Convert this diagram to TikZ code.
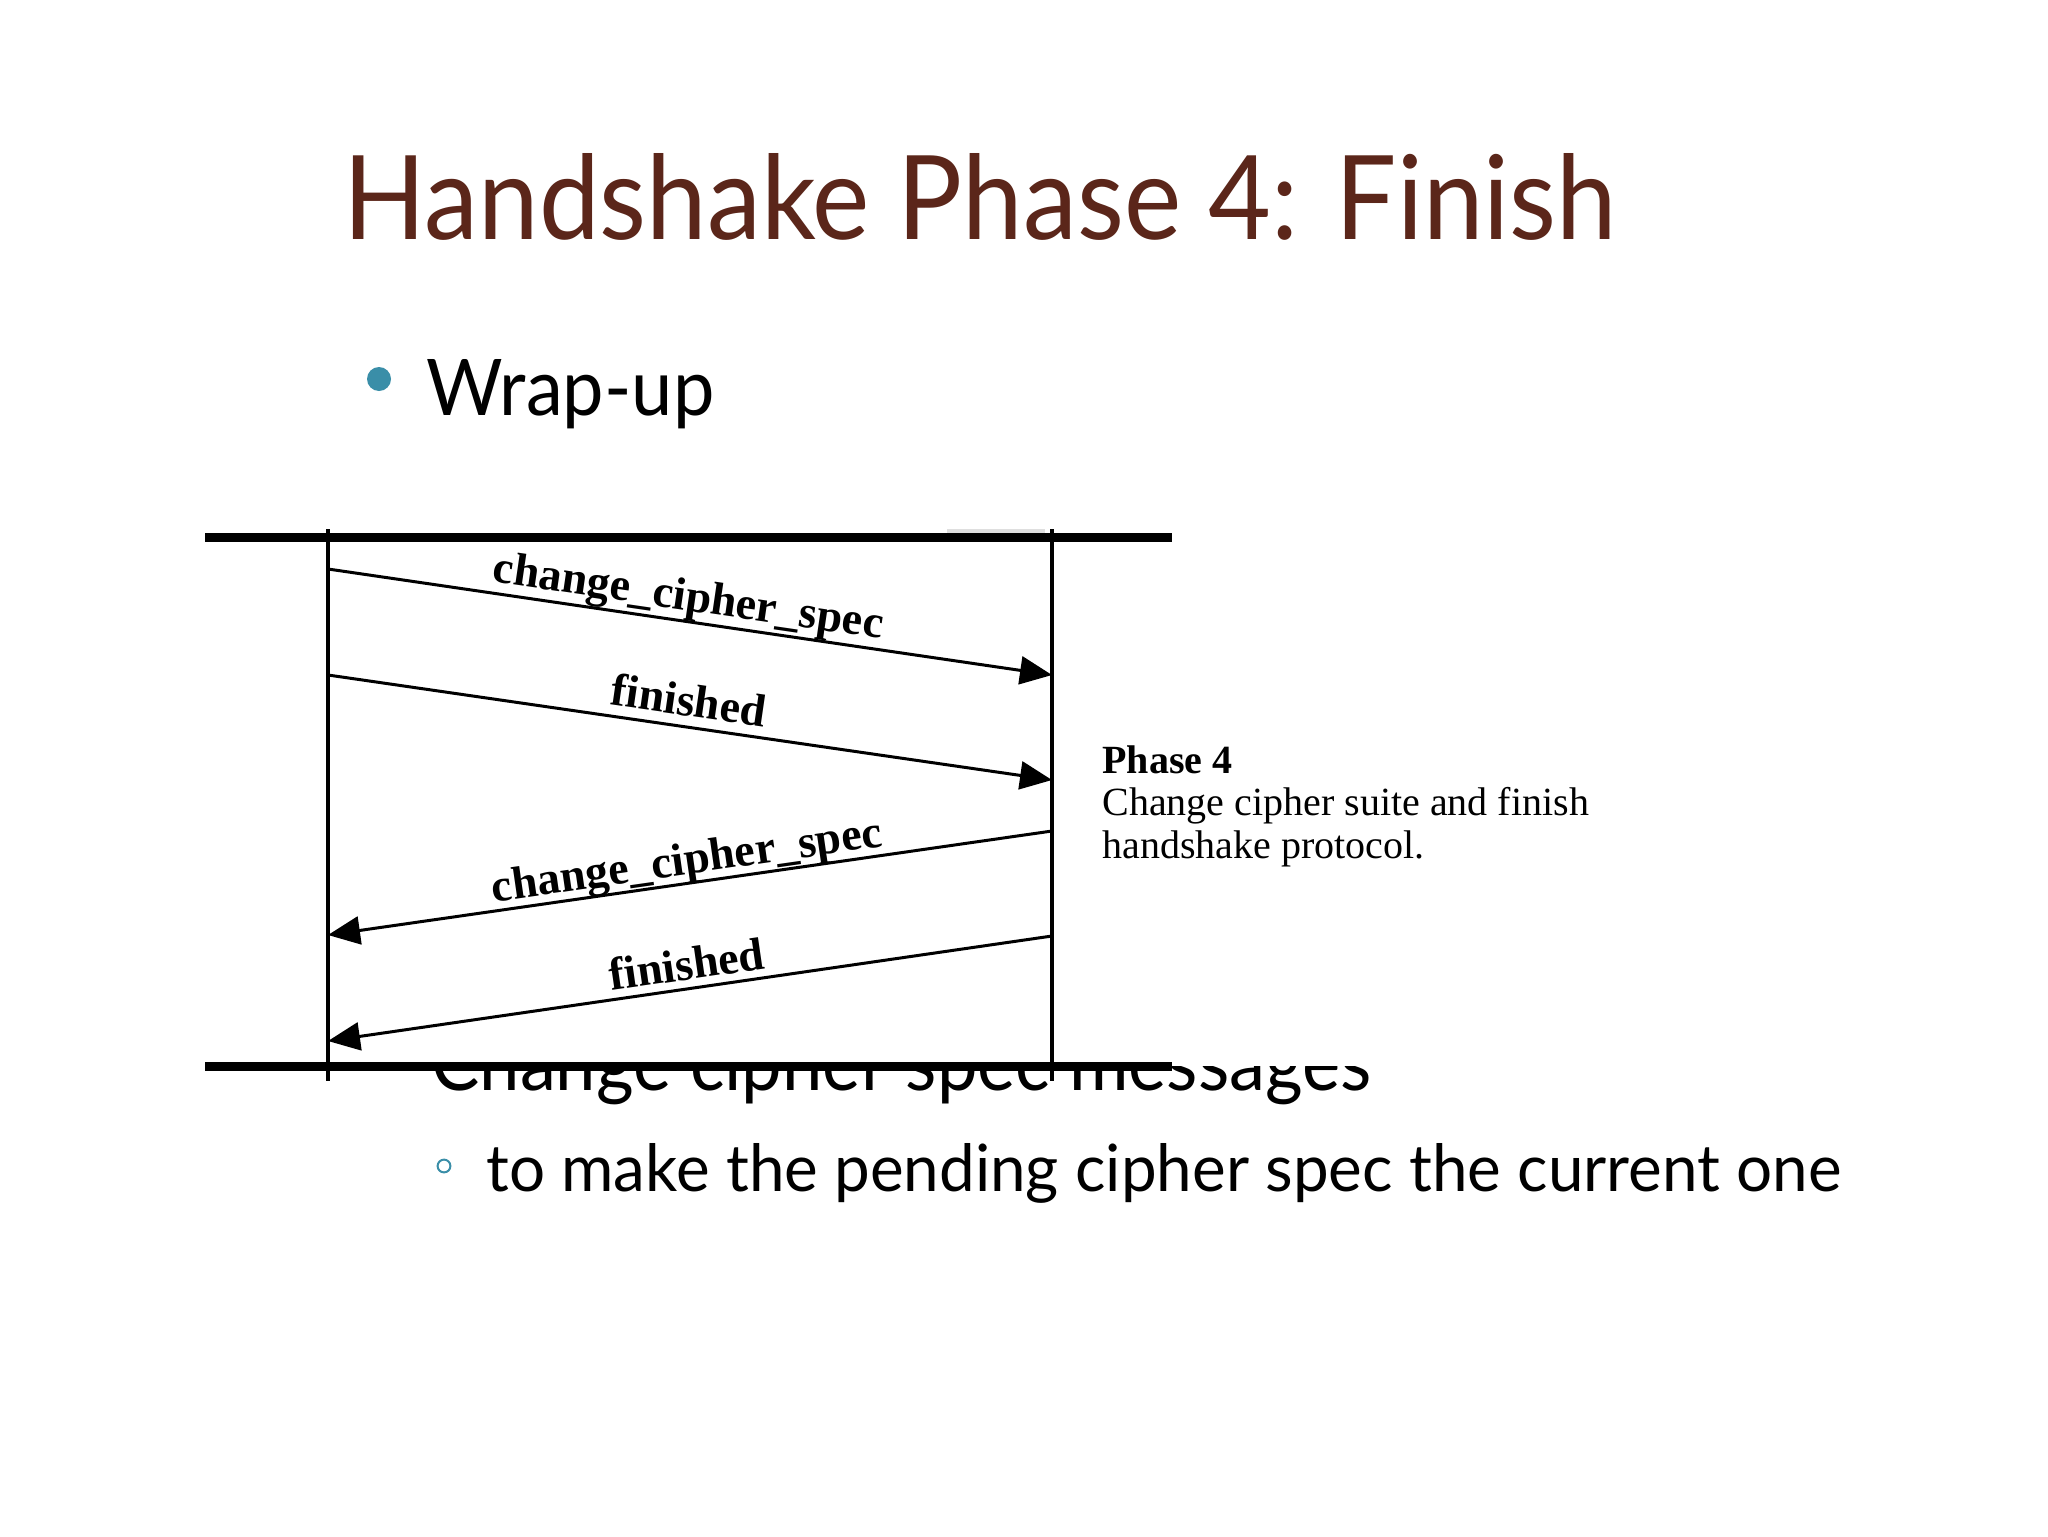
\documentclass[tikz,border=0pt]{standalone}
\usepackage{fontspec}
\setmainfont{Liberation Serif}
\newfontfamily\gill{Lato}
\usetikzlibrary{arrows.meta}
\definecolor{titlebrown}{RGB}{91,38,26}
\definecolor{bullteal}{RGB}{58,142,168}
\tikzset{
  frameline/.style={line width=4.5pt},
  lifeline/.style={line width=1.8pt},
  msg/.style={line width=1.5pt, -{Triangle[length=16pt,width=14pt]}},
  lbl/.style={sloped, anchor=base, inner sep=0pt, yshift=4.5pt, font=\bfseries\fontsize{23pt}{23pt}\selectfont},
  note/.style={anchor=base west, inner sep=0pt, font=\fontsize{20pt}{20pt}\selectfont}
}
\begin{document}
\begin{tikzpicture}[x=0.5pt,y=-0.5pt]
\useasboundingbox (0,0) rectangle (2048,1536);
\fill[white] (0,0) rectangle (2048,1536);
% title
\node[anchor=base west, inner sep=0pt, text=titlebrown] (title) at (343,239) {\resizebox{636.5pt}{43pt}{\gill Handshake Phase 4: Finish}};
% bullet
\fill[bullteal] (379,379) circle (6pt);
\node[anchor=base west, inner sep=0pt] (wrap) at (426,415) {\resizebox{144pt}{28pt}{\gill Wrap-up}};
% hidden text
\node[anchor=base west, inner sep=0pt] (hidden) at (431,1090) {\resizebox{470pt}{29pt}{\gill Change cipher spec messages}};
% sub bullet
\draw[bullteal, line width=1pt] (444,1166) circle (3.2pt);
\node[anchor=base west, inner sep=0pt] (sub) at (486,1191) {\resizebox{677.5pt}{24pt}{\gill to make the pending cipher spec the current one}};
% image cover
\fill[white] (200,495) rectangle (1650,1066);
\draw[gray!25, line width=2pt] (947,531) -- (1045,531);
% frame
\draw[frameline] (205,537) -- (1172,537);
\draw[frameline] (205,1066) -- (1172,1066);
\coordinate (ltop) at (328,529);
\coordinate (lbot) at (328,1081);
\coordinate (rtop) at (1052,529);
\coordinate (rbot) at (1052,1081);
\draw[lifeline] (ltop) -- (lbot);
\draw[lifeline] (rtop) -- (rbot);
% messages
\coordinate (m1s) at (328,569);
\coordinate (m1e) at (1052,675);
\coordinate (m2s) at (328,675);
\coordinate (m2e) at (1052,780);
\coordinate (m3s) at (1052,831);
\coordinate (m3e) at (328,935);
\coordinate (m4s) at (1052,936);
\coordinate (m4e) at (328,1041);
\draw[msg] (m1s) -- node[lbl, xshift=-2.5pt, yshift=1pt] {change\_cipher\_spec} (m1e);
\draw[msg] (m2s) -- node[lbl, xshift=-2.5pt, yshift=1pt] {finished} (m2e);
\draw[msg] (m3s) -- node[lbl] {change\_cipher\_spec} (m3e);
\draw[msg] (m4s) -- node[lbl] {finished} (m4e);
% note
\node[note, font=\bfseries\fontsize{20pt}{20pt}\selectfont] (n1) at (1102,773) {Phase 4};
\node[note] (n2) at (1102,815) {Change cipher suite and finish};
\node[note] (n3) at (1102,858) {handshake protocol.};
\end{tikzpicture}
\end{document}
